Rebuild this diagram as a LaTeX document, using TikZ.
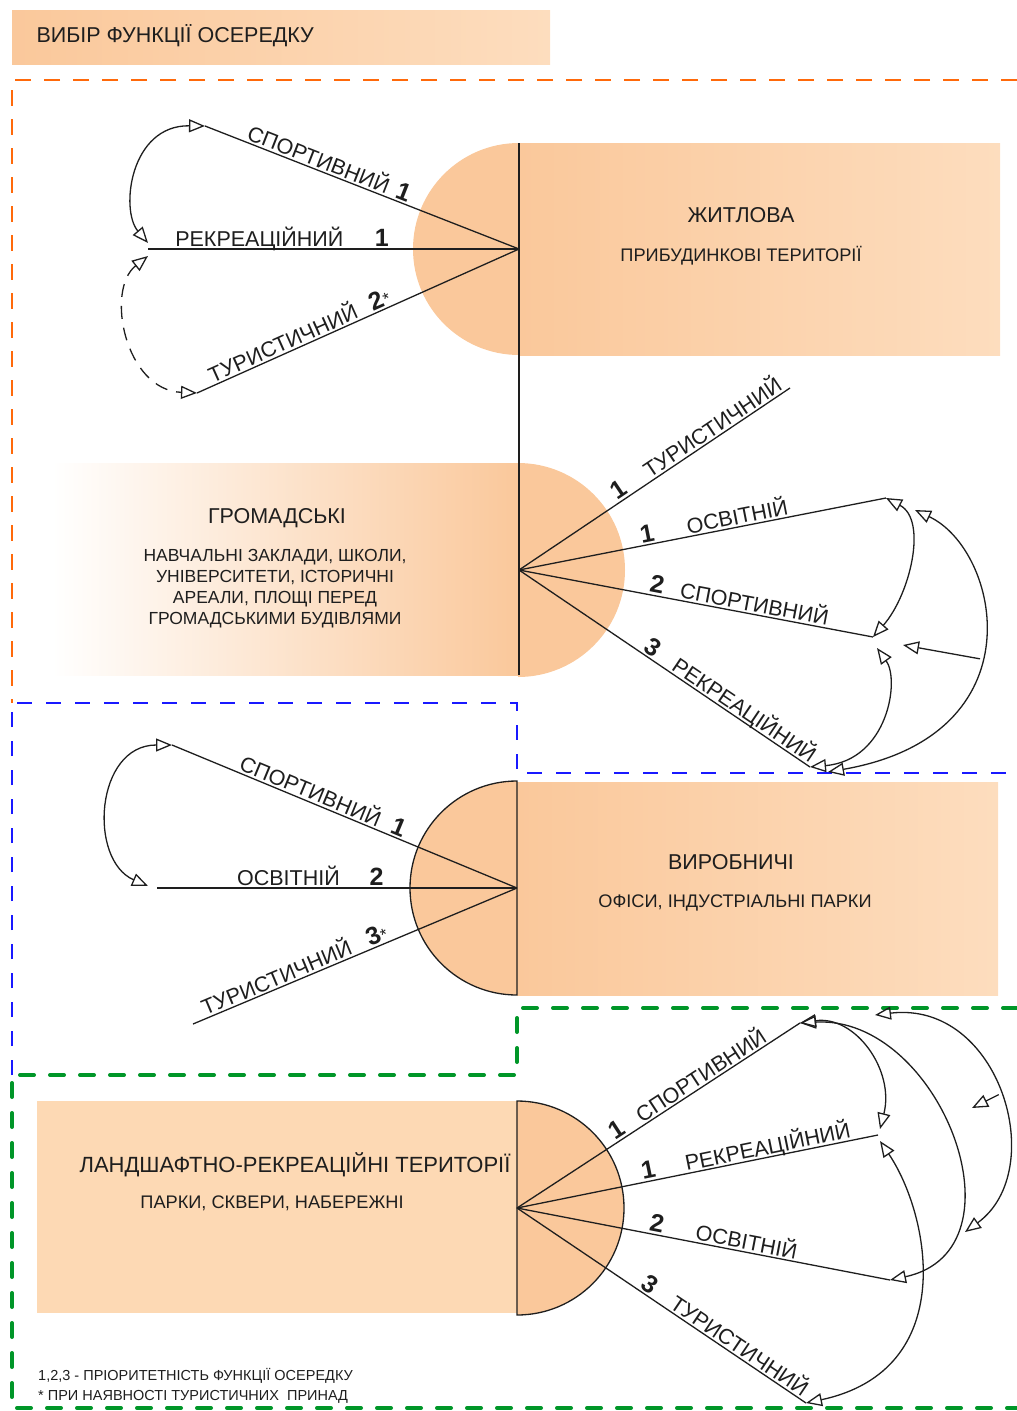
\documentclass[tikz,border=0pt]{standalone}
\usepackage{fontspec}
\setmainfont{Liberation Sans}
\usetikzlibrary{arrows.meta}
\definecolor{orfill}{RGB}{250,200,155}
\definecolor{orpale}{RGB}{253,221,190}
\definecolor{orflat}{RGB}{253,217,180}
\definecolor{orline}{RGB}{255,105,10}
\definecolor{bline}{RGB}{25,25,255}
\definecolor{gline}{RGB}{0,150,40}
\definecolor{ink}{RGB}{30,30,30}
\tikzset{
  ray/.style={line width=1.3pt, ink},
  twoway/.style={line width=1.3pt, ink, {Triangle[open, length=16pt, width=13pt]}-{Triangle[open, length=16pt, width=13pt]}},
  oneway/.style={line width=1.3pt, ink, -{Triangle[open, length=16pt, width=13pt]}},
  lbl/.style={sloped, above=2pt, inner sep=0pt, text depth=0pt, text=ink, font=\fontsize{21.5}{23}\selectfont},
  num/.style={sloped, above=2pt, inner sep=0pt, text depth=0pt, text=ink, font=\fontsize{25}{26}\selectfont\bfseries},
  head/.style={text=ink, font=\fontsize{21.5}{23}\selectfont, align=center},
  sub/.style={text=ink, font=\fontsize{18.2}{21}\selectfont, align=center},
  note/.style={text=ink, font=\fontsize{14.5}{16}\selectfont, anchor=west, inner sep=0pt},
}
\newcommand{\starmark}{{\fontsize{17}{17}\mdseries *}}
\begin{document}
\begin{tikzpicture}[x=1pt,y=-1pt]
\useasboundingbox (0,0) rectangle (1017,1411);

% title bar
\shade[left color=orfill, right color=orpale] (12,10) rectangle (550,64);
\node[anchor=west, text=ink, font=\fontsize{21.5}{23}\selectfont] (title) at (33,36) {ВИБІР ФУНКЦІЇ ОСЕРЕДКУ};

% zone frames
\draw[orline, line width=1.5pt, dash pattern=on 16pt off 13pt] (1017,80) -- (12,80) -- (12,703);
\draw[bline, line width=1.5pt, dash pattern=on 15pt off 14pt] (12,1075) -- (12,703) -- (517,703) -- (517,773) -- (1017,773);
\draw[gline, line width=4pt, line cap=round, dash pattern=on 14pt off 16pt] (1017,1008) -- (517,1008) -- (517,1075) -- (12,1075) -- (12,1408) -- (1017,1408);

% ---------- residential ----------
\shade[left color=orfill, right color=orpale] (519,143) rectangle (1000,355);
\fill[orfill] (519,143) arc[start angle=90, end angle=270, radius=106pt] -- cycle;
\draw[ray] (519,143) -- (519,675);
\node[head] (h1) at (741,215) {ЖИТЛОВА};
\node[sub] (s1) at (741,256) {ПРИБУДИНКОВІ ТЕРИТОРІЇ};

\coordinate (c1) at (519,249);
\coordinate (e1s) at (205,126);
\coordinate (e1r) at (148,249);
\coordinate (e1ra) at (148,243);
\coordinate (e1rb) at (148,256);
\coordinate (e1t) at (197,393);
\draw[ray] (c1) -- (e1s) node[lbl,pos=0.65] {СПОРТИВНИЙ} node[num,pos=0.38] {1};
\draw[ray] (c1) -- (e1r) node[lbl,pos=0.70] {РЕКРЕАЦІЙНИЙ} node[num,pos=0.37] {1};
\draw[ray] (c1) -- (e1t) node[lbl,pos=0.72] {ТУРИСТИЧНИЙ} node[num,pos=0.42] {2\starmark};
\draw[twoway] (e1ra) .. controls (120,210) and (130,125) .. (e1s);
\draw[twoway, dash pattern=on 13pt off 9pt] (e1rb) .. controls (105,290) and (125,390) .. (e1t);

% ---------- public ----------
\shade[left color=white, right color=orfill] (52,463) rectangle (518,675);
\fill[orfill] (518,463) arc[start angle=90, end angle=-90, radius=107pt] -- cycle;
\draw[ray] (519,463) -- (519,675);
\node[head] (h2) at (277,518) {ГРОМАДСЬКІ};
\node[sub, font=\fontsize{17.5}{21}\selectfont] (s2) at (275,589) {НАВЧАЛЬНІ ЗАКЛАДИ, ШКОЛИ,\\УНІВЕРСИТЕТИ, ІСТОРИЧНІ\\АРЕАЛИ, ПЛОЩІ ПЕРЕД\\ГРОМАДСЬКИМИ БУДІВЛЯМИ};

\coordinate (c2) at (519,570);
\coordinate (e2t) at (790,388);
\coordinate (e2e) at (886,498);
\coordinate (e2s) at (873,637);
\coordinate (e2sb) at (877,648);
\coordinate (e2r) at (810,767);
\coordinate (a2top) at (915,510);
\coordinate (a2bot) at (828,772);
\coordinate (a2tip) at (903,645);
\draw[ray] (c2) -- (e2t) node[lbl,pos=0.735] {ТУРИСТИЧНИЙ} node[num,pos=0.39] {1};
\draw[ray] (c2) -- (e2e) node[lbl,pos=0.60] {ОСВІТНІЙ} node[num,pos=0.355] {1};
\draw[ray] (c2) -- (e2s) node[lbl,pos=0.66] {СПОРТИВНИЙ} node[num,pos=0.385] {2};
\draw[ray] (c2) -- (e2r) node[lbl,pos=0.755] {РЕКРЕАЦІЙНИЙ} node[num,pos=0.44] {3};
\draw[twoway] (e2e) .. controls (928,520) and (910,595) .. (e2s);
\draw[twoway] (e2sb) .. controls (900,680) and (888,760) .. (e2r);
\draw[twoway] (a2top) .. controls (1000,550) and (1040,735) .. coordinate[pos=0.55] (a2mid) (a2bot);
\draw[oneway] (a2mid) -- (a2tip);

% ---------- production ----------
\shade[left color=orfill, right color=orpale] (517,782) rectangle (998,995);
\filldraw[fill=orfill, draw=ink, line width=1.3pt] (517,781) arc[start angle=90, end angle=270, radius=107pt] -- cycle;
\node[head] (h3) at (731,862) {ВИРОБНИЧІ};
\node[sub] (s3) at (735,903) {ОФІСИ, ІНДУСТРІАЛЬНІ ПАРКИ};

\coordinate (c3) at (517,888);
\coordinate (e3s) at (172,745);
\coordinate (e3e) at (157,888);
\coordinate (e3ea) at (148,886);
\coordinate (e3t) at (193,1024);
\draw[ray] (c3) -- (e3s) node[lbl,pos=0.61] {СПОРТИВНИЙ} node[num,pos=0.355] {1};
\draw[ray] (c3) -- (e3e) node[lbl,pos=0.635] {ОСВІТНІЙ} node[num,pos=0.39] {2};
\draw[ray] (c3) -- (e3t) node[lbl,pos=0.73] {ТУРИСТИЧНИЙ} node[num,pos=0.42] {3\starmark};
\draw[twoway] (e3ea) .. controls (88,860) and (95,745) .. (e3s);

% ---------- landscape ----------
\fill[orflat] (37,1101) rectangle (517,1313);
\filldraw[fill=orfill, draw=ink, line width=1.3pt] (517,1101) arc[start angle=90, end angle=-90, radius=107pt] -- cycle;
\node[head, font=\fontsize{22}{23}\selectfont] (h4) at (295,1165) {ЛАНДШАФТНО-РЕКРЕАЦІЙНІ ТЕРИТОРІЇ};
\node[sub] (s4) at (272,1203) {ПАРКИ, СКВЕРИ, НАБЕРЕЖНІ};

\coordinate (c4) at (517,1208);
\coordinate (e4s) at (800,1023);
\coordinate (e4r) at (878,1135);
\coordinate (e4ra) at (880,1129);
\coordinate (e4rb) at (880,1141);
\coordinate (e4e) at (890,1280);
\coordinate (e4t) at (806,1403);
\coordinate (a4top) at (875,1015);
\coordinate (a4bot) at (965,1232);
\coordinate (a4tip) at (972,1108);
\draw[ray] (c4) -- (e4s) node[lbl,pos=0.67] {СПОРТИВНИЙ} node[num,pos=0.375] {1};
\draw[ray] (c4) -- (e4r) node[lbl,pos=0.70] {РЕКРЕАЦІЙНИЙ} node[num,pos=0.37] {1};
\draw[ray] (c4) -- (e4e) node[lbl,pos=0.61] {ОСВІТНІЙ} node[num,pos=0.37] {2};
\draw[ray] (c4) -- (e4t) node[lbl,pos=0.75] {ТУРИСТИЧНИЙ} node[num,pos=0.44] {3};
\draw[twoway] (e4s) .. controls (855,1015) and (895,1070) .. (e4ra);
\draw[twoway] (e4rb) .. controls (930,1215) and (960,1370) .. (e4t);
\draw[twoway] (e4s) .. controls (940,1015) and (1030,1250) .. (e4e);
\draw[twoway] (a4top) .. controls (1000,1000) and (1050,1170) .. coordinate[pos=0.5] (a4mid) (a4bot);
\draw[oneway] (a4mid) -- (a4tip);

% legend
\node[note] (n1) at (38,1376) {1,2,3 - ПРІОРИТЕТНІСТЬ ФУНКЦІЇ ОСЕРЕДКУ};
\node[note] (n2) at (38,1397) {* ПРИ НАЯВНОСТІ ТУРИСТИЧНИХ \ ПРИНАД};
\end{tikzpicture}
\end{document}
